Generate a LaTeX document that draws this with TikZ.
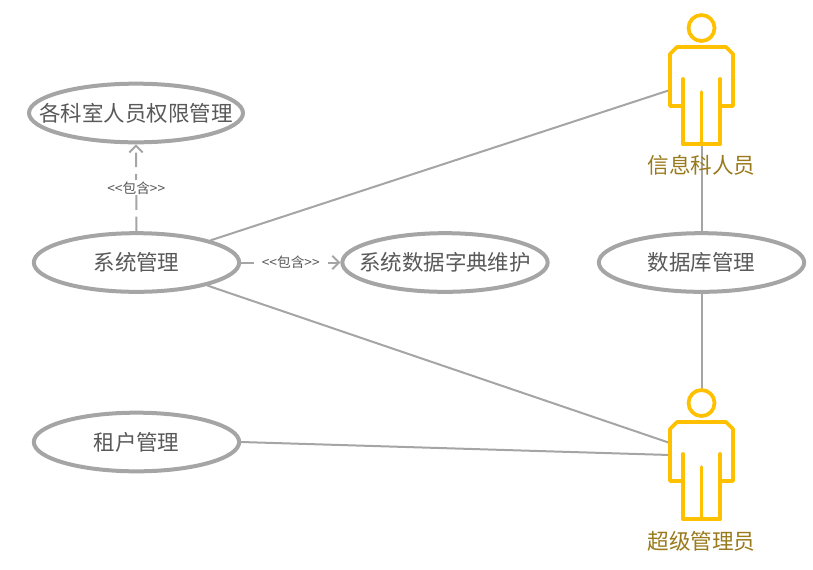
\documentclass[tikz,border=0pt]{standalone}
\usepackage{fontspec}
\setmainfont{Noto Sans CJK SC}
\usepackage{xcolor}
\usetikzlibrary{arrows.meta}
\usetikzlibrary{shapes.geometric}
\usetikzlibrary{math}
\definecolor{linegray}{HTML}{A5A5A5}
\definecolor{textgray}{HTML}{595959}
\definecolor{actorgold}{HTML}{FFC000}
\definecolor{labelgold}{HTML}{997A1C}
\tikzset{
usecase/.style={ellipse, draw=linegray, line width=3pt, fill=white, minimum width=154pt, minimum height=44pt, inner sep=0pt, text=textgray, font=\fontsize{16.1}{18}\selectfont},
assoc/.style={draw=linegray, line width=1.5pt},
include/.style={draw=linegray, line width=1.5pt, dash pattern=on 11pt off 5pt, -{Straight Barb[length=5pt,width=10pt]}},
includelabel/.style={midway, fill=white, inner xsep=6pt, inner ysep=1pt, text=textgray, font=\fontsize{10.3}{12}\selectfont},
actorline/.style={draw=actorgold, line width=2.8pt, line cap=round, line join=round},
actorbox/.style={minimum width=47pt, minimum height=73pt, inner sep=0pt, outer sep=0pt},
actorlabel/.style={text=labelgold, font=\fontsize{16.2}{18}\selectfont}
}
\newcommand{\casetext}[1]{\makebox[0pt]{#1}}
\newcommand{\incl}{<\kern0pt<包含>\kern0pt>}
\newcommand{\actorfigure}[2]{
\draw[actorline] (#1,#2-67.5) circle (13);
\draw[actorline] (#1-18.5,#2+48.5) -- (#1+18.5,#2+48.5);
\draw[actorline] (#1-18.5,#2-16.5) -- (#1-18.5,#2+48.5);
\draw[actorline] (#1+18.5,#2-16.5) -- (#1+18.5,#2+48.5);
\draw[actorline] (#1,#2-3.5) -- (#1,#2+48.5);
\draw[actorline] (#1-18.5,#2+10.5) -- (#1-31.5,#2+10.5) -- (#1-31.5,#2-41.5) -- (#1-24.5,#2-48.5) -- (#1+24.5,#2-48.5) -- (#1+31.5,#2-41.5) -- (#1+31.5,#2+10.5) -- (#1+18.5,#2+10.5);
}
\begin{document}
\begin{tikzpicture}[x=0.75pt,y=-0.75pt]
\useasboundingbox (0,0) rectangle (813,569);

\tikzmath{
\Ax=701.5;
\Ay=95.5;
\By=470.5;
}

% use cases
\node[usecase, minimum width=160.5pt] (rights) at (136,113) {\casetext{各科室人员权限管理}};
\node[usecase] (sysmgr) at (136.5,262.5) {\casetext{系统管理}};
\node[usecase] (dict) at (445,262.5) {\casetext{系统数据字典维护}};
\node[usecase] (dbmgr) at (701.5,262.5) {\casetext{数据库管理}};
\node[usecase] (tenant) at (136.5,442) {\casetext{租户管理}};

% actors
\node[actorbox] (info) at (\Ax,\Ay) {};
\node[actorbox] (super) at (\Ax,\By) {};
\coordinate (infoleft) at (670,90);
\coordinate (superhead) at (\Ax,390);
\coordinate (superleftA) at (670,443);
\coordinate (superleftB) at (670,455);

% connectors
\draw[assoc] (sysmgr.north east) -- (infoleft);
\draw[assoc] (sysmgr.-18) -- (superleftA);
\draw[assoc] (tenant.east) -- (superleftB);
\draw[assoc] (dbmgr.north) -- (info.south);
\draw[assoc] (dbmgr.south) -- (superhead);
\draw[include] (sysmgr.north) -- (rights.south) node[includelabel] {\incl};
\draw[include] (sysmgr.east) -- (dict.west) node[includelabel] {\incl};

\actorfigure{\Ax}{\Ay}
\actorfigure{\Ax}{\By}

\node[actorlabel] (infolabel) at (\Ax,165) {信息科人员};
\node[actorlabel] (superlabel) at (\Ax,541) {超级管理员};
\end{tikzpicture}
\end{document}
